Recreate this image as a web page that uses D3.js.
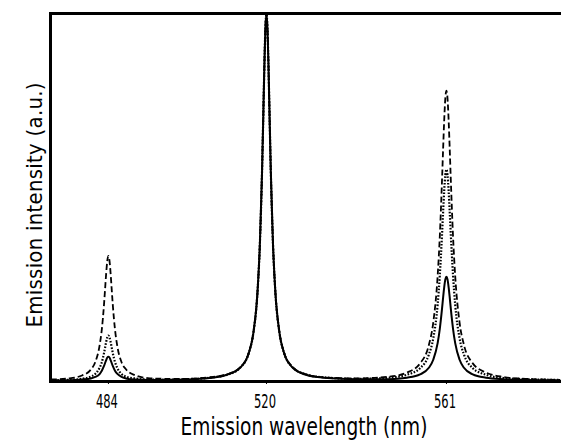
<!DOCTYPE html>
<html><head><meta charset="utf-8">
<script src="https://cdn.jsdelivr.net/npm/d3@7/dist/d3.min.js"></script>
<style>
html,body{margin:0;padding:0;background:#fff;}
svg{display:block;}
text{font-family:"DejaVu Sans Condensed","DejaVu Sans",sans-serif;fill:#000;}
</style></head>
<body>
<svg id="chart" width="561" height="441"></svg>
<script>
// Emission wavelength samples (nm)
const wavelength = [471, 475.1, 478.1, 480.1, 481.1, 482.1, 482.6, 483.1, 483.35, 483.6, 483.85, 484.1, 484.35, 484.6, 484.85, 485.1, 485.6, 486.1, 487.1, 488.1, 490.1, 493.1, 497.1,
  502,
  507.1, 511.1, 514.1, 516.1, 517.1, 518.1, 518.6, 519.1, 519.35, 519.6, 519.85, 520.1, 520.35, 520.6, 520.85, 521.1, 521.6, 522.1, 523.1, 524.1, 526.1, 529.1, 533.1,
  540.5,
  548.1, 552.1, 555.1, 557.1, 558.1, 559.1, 559.6, 560.1, 560.35, 560.6, 560.85, 561.1, 561.35, 561.6, 561.85, 562.1, 562.6, 563.1, 564.1, 565.1, 567.1, 570.1, 574.1, 579.1, 587];

// Emission intensity (a.u., normalised to the 520 nm peak)
const solidSeries = [0.001, 0.002, 0.004, 0.007, 0.011, 0.019, 0.028, 0.041, 0.049, 0.057, 0.064, 0.066, 0.064, 0.057, 0.049, 0.041, 0.028, 0.020, 0.011, 0.007, 0.004, 0.003, 0.003,
  0.004,
  0.008, 0.017, 0.036, 0.077, 0.129, 0.249, 0.371, 0.570, 0.703, 0.842, 0.956, 1.0, 0.956, 0.842, 0.703, 0.570, 0.371, 0.249, 0.129, 0.077, 0.036, 0.017, 0.009,
  0.005,
  0.005, 0.009, 0.018, 0.036, 0.058, 0.103, 0.143, 0.197, 0.228, 0.256, 0.277, 0.284, 0.277, 0.256, 0.228, 0.197, 0.143, 0.103, 0.058, 0.036, 0.018, 0.009, 0.005, 0.003, 0.002];

const dottedSeries = [0.002, 0.003, 0.006, 0.012, 0.019, 0.036, 0.051, 0.076, 0.091, 0.107, 0.119, 0.124, 0.119, 0.107, 0.092, 0.076, 0.052, 0.036, 0.019, 0.012, 0.007, 0.004, 0.004,
  0.005,
  0.009, 0.017, 0.036, 0.077, 0.129, 0.249, 0.371, 0.570, 0.703, 0.842, 0.956, 1.0, 0.956, 0.842, 0.703, 0.570, 0.371, 0.249, 0.129, 0.077, 0.037, 0.018, 0.010,
  0.006,
  0.009, 0.017, 0.035, 0.072, 0.116, 0.208, 0.289, 0.399, 0.461, 0.519, 0.561, 0.576, 0.561, 0.519, 0.461, 0.399, 0.289, 0.208, 0.116, 0.072, 0.035, 0.017, 0.008, 0.005, 0.003];

const dashedSeries = [0.004, 0.007, 0.015, 0.031, 0.051, 0.097, 0.140, 0.208, 0.251, 0.294, 0.328, 0.341, 0.328, 0.294, 0.251, 0.208, 0.141, 0.097, 0.051, 0.032, 0.016, 0.008, 0.006,
  0.006,
  0.010, 0.018, 0.037, 0.078, 0.129, 0.249, 0.371, 0.570, 0.703, 0.842, 0.956, 1.0, 0.956, 0.842, 0.703, 0.571, 0.372, 0.250, 0.130, 0.078, 0.038, 0.018, 0.010,
  0.007,
  0.012, 0.023, 0.048, 0.098, 0.159, 0.286, 0.396, 0.548, 0.633, 0.712, 0.770, 0.791, 0.770, 0.712, 0.633, 0.548, 0.396, 0.286, 0.159, 0.098, 0.048, 0.023, 0.011, 0.006, 0.003];

const tickValues = [484, 520, 561];
const tickLabels = ["484", "520", "561"];
const xTitle = "Emission wavelength (nm)";
const yTitle = "Emission intensity (a.u.)";

const svg = d3.select("#chart");
const plotLeft = 50, plotRight = 561, plotTop = 14, plotBottom = 381;

const x = d3.scaleLinear().domain([470.8, 587.2]).range([plotLeft, plotRight]);
const y = d3.scaleLinear().domain([0, 1]).range([plotBottom, plotTop]);

svg.append("defs").append("clipPath").attr("id", "plotclip")
  .append("rect").attr("x", plotLeft).attr("y", plotTop).attr("width", plotRight - plotLeft).attr("height", plotBottom - plotTop);

const line = d3.line().x((d, i) => x(wavelength[i])).y(d => y(d)).curve(d3.curveMonotoneX);

const g = svg.append("g").attr("clip-path", "url(#plotclip)");
g.append("path").datum(dashedSeries).attr("d", line)
  .attr("fill", "none").attr("stroke", "#000").attr("stroke-width", 1.8).attr("stroke-dasharray", "6,3");
g.append("path").datum(dottedSeries).attr("d", line)
  .attr("fill", "none").attr("stroke", "#000").attr("stroke-width", 2.2).attr("stroke-dasharray", "1.6,1.6");
g.append("path").datum(solidSeries).attr("d", line)
  .attr("fill", "none").attr("stroke", "#000").attr("stroke-width", 2);

// Bottom axis
const xAxis = d3.axisBottom(x).tickValues(tickValues).tickSize(3).tickSizeOuter(0).tickFormat(() => "");
const gx = svg.append("g").attr("transform", `translate(0,${plotBottom})`).call(xAxis);
gx.select(".domain").attr("stroke", "#000").attr("stroke-width", 3);
gx.selectAll(".tick line").attr("stroke", "#000").attr("stroke-width", 1);

// Top frame line
const gt = svg.append("g").attr("transform", `translate(0,${plotTop - 1})`)
  .call(d3.axisTop(x).tickValues([]).tickSizeOuter(0));
gt.select(".domain").attr("stroke", "#000").attr("stroke-width", 3);

// Left frame line
const gy = svg.append("g").attr("transform", `translate(${plotLeft},0)`)
  .call(d3.axisLeft(d3.scaleLinear().domain([0, 1]).range([plotBottom + 1.5, plotTop - 2.5])).tickValues([]).tickSizeOuter(0));
gy.select(".domain").attr("stroke", "#000").attr("stroke-width", 3);

// Tick labels
svg.append("g").selectAll("text").data(tickValues).join("text")
  .attr("transform", d => `translate(${x(d) - 1},408) scale(0.64,1)`)
  .attr("text-anchor", "middle")
  .attr("font-size", 20)
  .text((d, i) => tickLabels[i]);

// Axis titles
svg.append("text").attr("transform", "translate(304,435) scale(0.86,1)").attr("text-anchor", "middle")
  .attr("font-size", 24)
  .text(xTitle);

svg.append("text").attr("transform", "translate(42,205) rotate(-90)").attr("text-anchor", "middle")
  .attr("font-size", 22).attr("textLength", 245).attr("lengthAdjust", "spacing")
  .text(yTitle);
</script>
</body></html>
